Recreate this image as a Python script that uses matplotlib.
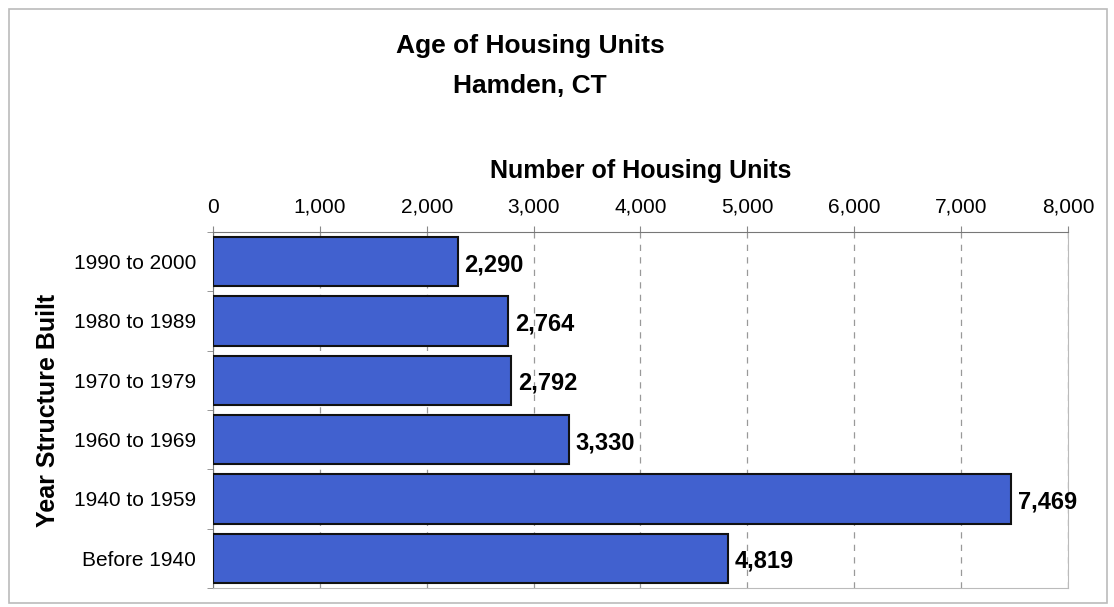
import matplotlib
matplotlib.use("Agg")
import matplotlib.pyplot as plt
from matplotlib.patches import Rectangle
import numpy as np

categories = ["1990 to 2000", "1980 to 1989", "1970 to 1979", "1960 to 1969", "1940 to 1959", "Before 1940"]
units = [2290, 2764, 2792, 3330, 7469, 4819]
xticks = [0, 1000, 2000, 3000, 4000, 5000, 6000, 7000, 8000]

plt.rcParams['font.family'] = ['Liberation Sans', 'DejaVu Sans']

fig = plt.figure(figsize=(11.14, 6.07), dpi=100)
fig.patches.append(Rectangle((0.008, 0.007), 0.986, 0.978, transform=fig.transFigure,
                             fill=False, edgecolor='#bbbbbb', linewidth=1.2))
ax = fig.add_axes([0.1912, 0.0313, 0.7675, 0.5865])

y = np.arange(len(categories))
ax.barh(y, units, height=0.83, color='#4161CF', edgecolor='#111111', linewidth=1.5, zorder=3)
ax.set_ylim(len(categories) - 0.5, -0.5)
ax.set_xlim(0, 8000)

ax.xaxis.tick_top()
ax.xaxis.set_label_position('top')
ax.set_xticks(xticks)
ax.set_xticklabels([f"{v:,}" for v in xticks], fontsize=15)
ax.tick_params(axis='x', length=4, pad=7, color='#888888')
ax.set_xlabel("Number of Housing Units", fontsize=18, fontweight='bold', labelpad=14)

ax.set_yticks(y)
ax.set_yticklabels(categories, fontsize=15)
ax.tick_params(axis='y', length=0, pad=12)
ax.set_yticks(np.arange(len(categories) + 1) - 0.5, minor=True)
ax.tick_params(axis='y', which='minor', length=4, color='#888888')
ax.set_ylabel("Year Structure Built", fontsize=18, fontweight='bold', labelpad=10)

ax.grid(axis='x', linestyle=(0, (5, 5)), color='#999999', linewidth=0.9, zorder=0)
for side in ['top', 'left']:
    ax.spines[side].set_color('#777777')
for side in ['bottom', 'right']:
    ax.spines[side].set_color('#bbbbbb')

for yi, v in zip(y, units):
    ax.text(v + 60, yi + 0.05, f"{v:,}", va='center', ha='left', fontsize=17, fontweight='bold', zorder=4)

fig.text(0.476, 0.925, "Age of Housing Units", ha='center', va='center', fontsize=19, fontweight='bold')
fig.text(0.476, 0.858, "Hamden, CT", ha='center', va='center', fontsize=19, fontweight='bold')

fig.savefig("out.png", dpi=100)
